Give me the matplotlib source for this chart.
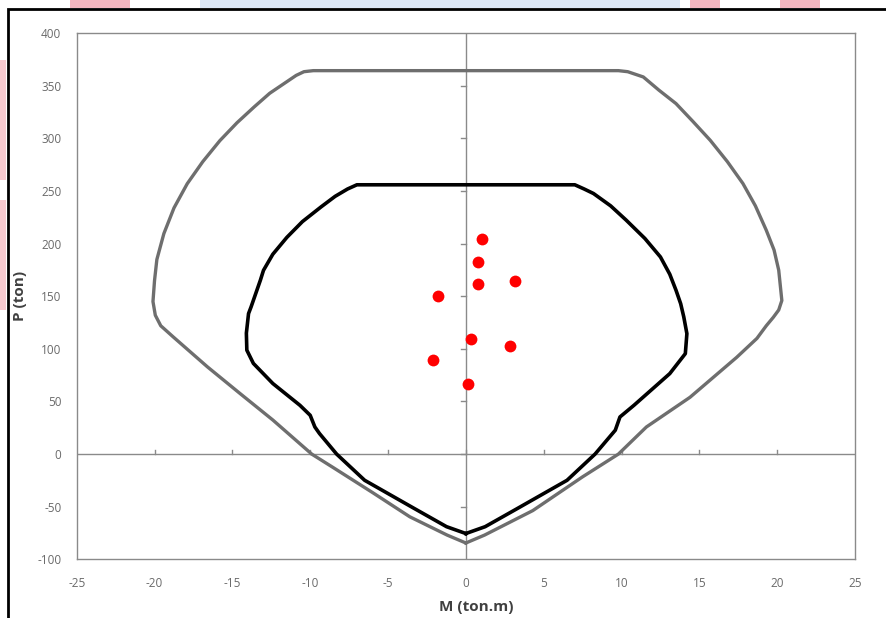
import matplotlib
matplotlib.use("Agg")
import matplotlib.pyplot as plt
from matplotlib.patches import Rectangle

# ---- data ----
# outer interaction curve (grey)
M_outer = [0.0, -1.2, -3.6, -6.0, -8.5, -9.9, -12.4, -14.5, -16.6, -18.8, -19.6, -19.95,
           -20.1, -20.0, -19.85, -19.4, -18.75, -17.9, -16.9, -15.8, -14.7, -13.6, -12.6, -11.5,
           -10.9, -10.4, -9.8,
           9.8, 10.4, 10.9, 11.4, 12.4, 13.5, 14.6, 15.7, 16.8, 17.8, 18.6, 19.3, 19.8, 20.1, 20.3,
           20.1, 19.75, 19.3, 18.7, 17.4, 14.4, 11.6, 9.8, 7.5, 4.3, 1.2, 0.0]
P_outer = [-84.5, -77.0, -59.6, -36.5, -13.0, 0.0, 32.4, 57.5, 82.9, 111.4, 122.0, 132.0,
           145.0, 165.0, 185.0, 209.6, 234.0, 257.0, 278.0, 298.0, 315.0, 330.0, 343.0, 354.0,
           360.0, 363.5, 364.5,
           364.5, 363.5, 361.0, 358.5, 346.0, 333.2, 316.0, 298.3, 278.0, 257.2, 236.0, 212.8, 194.0, 174.8, 146.0,
           137.0, 130.0, 122.0, 110.0, 92.0, 54.0, 25.8, 0.0, -21.6, -53.7, -77.0, -84.5]

# inner (design) interaction curve (black)
M_inner = [0.0, -1.24, -3.3, -6.5, -8.3, -9.4, -9.7, -10.0, -10.66, -12.4, -13.65, -14.07, -14.1,
           -13.96, -13.8, -13.2, -13.0, -12.4, -11.5, -10.5, -9.3, -8.4, -7.6, -7.0,
           7.0, 7.6, 8.2, 9.3, 10.3, 11.5, 12.5, 13.1, 13.5, 13.8, 14.0, 14.2, 14.1, 13.1, 10.8, 9.9,
           9.6, 8.3, 6.5, 3.3, 1.24, 0.0]
P_inner = [-75.5, -69.0, -51.8, -24.9, 0.0, 19.5, 25.8, 36.9, 46.4, 67.1, 86.2, 98.8, 115.0,
           133.6, 139.8, 165.3, 174.7, 190.0, 206.0, 221.0, 235.0, 245.0, 252.0, 256.0,
           256.0, 252.0, 247.7, 236.0, 222.4, 205.0, 187.4, 171.0, 155.8, 143.0, 130.4, 114.5, 95.5, 76.5, 46.4, 35.3,
           22.7, 0.0, -24.9, -51.8, -69.0, -75.5]

# load points (red)
M_pts = [1.02, 0.80, 0.80, 3.16, -1.77, 0.31, 2.84, -2.13, 0.12]
P_pts = [204.5, 182.3, 161.4, 164.8, 150.6, 109.4, 103.0, 89.4, 66.3]

x_ticks = [-25, -20, -15, -10, -5, 0, 5, 10, 15, 20, 25]
y_ticks = [-100, -50, 0, 50, 100, 150, 200, 250, 300, 350, 400]

# ---- figure ----
W, H = 886, 618
fig = plt.figure(figsize=(W / 100, H / 100), dpi=100)
fig.patch.set_facecolor("white")

# background decoration outside the frame (web page watermark)
bg = fig.add_axes([0, 0, 1, 1], zorder=-10)
bg.set_xlim(0, W)
bg.set_ylim(H, 0)
bg.axis("off")
bg.add_patch(Rectangle((70, 0), 60, 8, color="#f4b6bf", lw=0))
bg.add_patch(Rectangle((200, 0), 480, 8, color="#dbe6f5", lw=0))
bg.add_patch(Rectangle((690, 0), 30, 8, color="#f4b6bf", lw=0))
bg.add_patch(Rectangle((780, 0), 40, 8, color="#f4b6bf", lw=0))
bg.add_patch(Rectangle((0, 60), 6, 120, color="#f6c9cf", lw=0))
bg.add_patch(Rectangle((0, 200), 6, 110, color="#f6c9cf", lw=0))
bg.add_patch(Rectangle((862, 130), 24, 90, color="#f8d0d6", lw=0))
bg.add_patch(Rectangle((8, 9), W, H, facecolor="white", edgecolor="black", lw=2))

ax = fig.add_axes([76.7 / W, 1 - 559.3 / H, (855 - 76.7) / W, (559.3 - 33.3) / H])
ax.set_xlim(-25, 25)
ax.set_ylim(-100, 400)
ax.set_facecolor("white")
for s in ax.spines.values():
    s.set_color("#8a8a8a")
    s.set_linewidth(1.0)

tick_font = dict(family=["Open Sans", "DejaVu Sans"], size=8.5, color="#6a6a6a")
ax.set_xticks(x_ticks)
ax.set_yticks(y_ticks)
ax.set_xticklabels([str(v) for v in x_ticks], **tick_font)
ax.set_yticklabels([str(v) for v in y_ticks], **tick_font)
ax.tick_params(axis="x", length=0, pad=13)
ax.tick_params(axis="y", length=0, pad=11)

# zero axes with small tick marks
ax.axhline(0, color="#8a8a8a", lw=1.0, zorder=1)
ax.axvline(0, color="#8a8a8a", lw=1.0, zorder=1)
for xv in x_ticks[1:-1]:
    ax.plot([xv, xv], [0, 4], color="#8a8a8a", lw=1.0, zorder=1)
for yv in y_ticks[1:-1]:
    ax.plot([-0.3, 0], [yv, yv], color="#8a8a8a", lw=1.0, zorder=1)

ax.plot(M_outer, P_outer, color="#6e6e6e", lw=2.4, solid_joinstyle="round", zorder=3)
ax.plot(M_inner, P_inner, color="#000000", lw=2.6, solid_joinstyle="round", zorder=4)
ax.plot(M_pts, P_pts, "o", color="#ff0000", markersize=8.5, markeredgewidth=0, zorder=5)

label_font = dict(family=["Open Sans", "DejaVu Sans"], size=11, weight="bold", color="#404040")
fig.text(20 / W, 1 - 296 / H, "P (ton)", rotation=90, ha="center", va="center", **label_font)
fig.text(476 / W, 1 - 607 / H, "M (ton.m)", ha="center", va="center", **label_font)

fig.savefig("out.png", dpi=100)
